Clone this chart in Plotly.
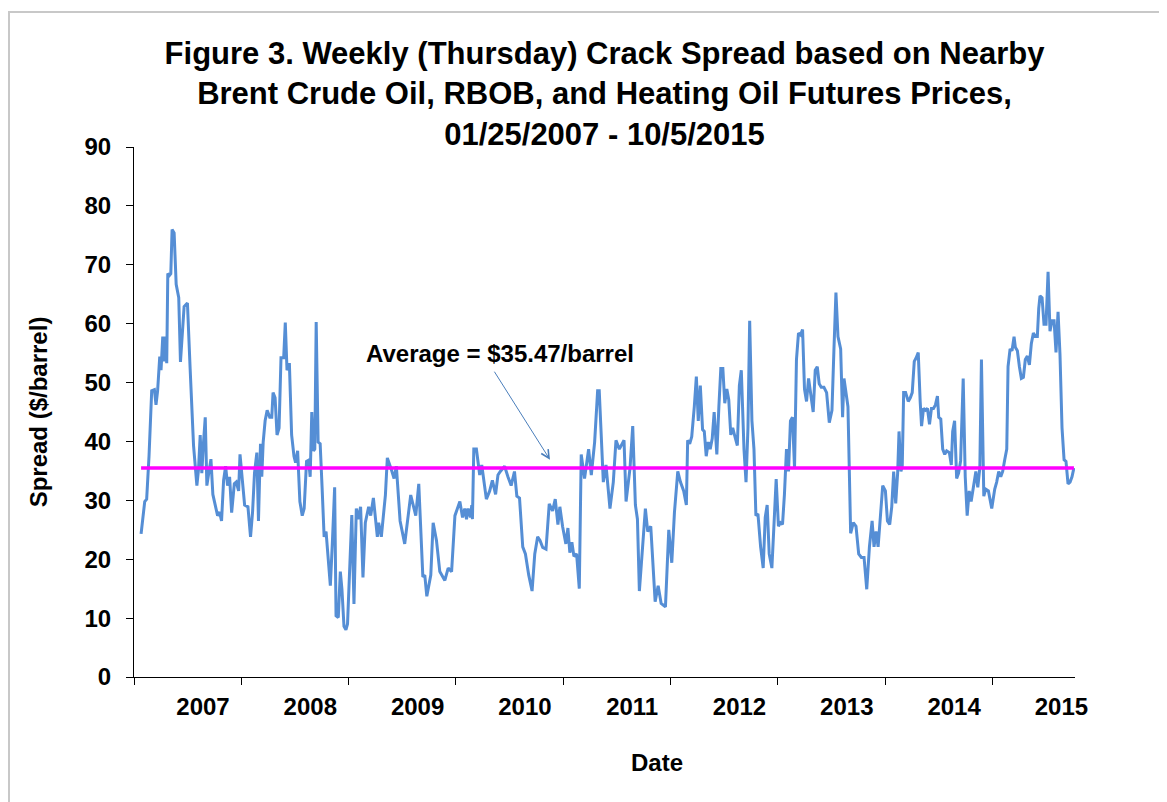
import plotly.graph_objects as go

# weekly crack spread; x is decimal year
x2007 = [2007.066, 2007.087, 2007.100, 2007.118, 2007.140, 2007.165, 2007.190, 2007.205, 2007.220, 2007.240,
         2007.252, 2007.268, 2007.283, 2007.296, 2007.305, 2007.315, 2007.330, 2007.343, 2007.355, 2007.374,
         2007.393, 2007.417, 2007.433, 2007.467, 2007.498, 2007.523, 2007.555, 2007.586, 2007.601, 2007.617,
         2007.632, 2007.648, 2007.664, 2007.679, 2007.695, 2007.717, 2007.735, 2007.757, 2007.779, 2007.798,
         2007.816, 2007.835, 2007.854, 2007.872, 2007.891, 2007.910, 2007.935, 2007.953, 2007.975, 2007.988]
s2007 = [24.3, 28.5, 29.8, 30.2, 37.5, 48.6, 48.8, 46.2, 48.6, 54.4,
         52.1, 57.8, 53.6, 57.8, 53.3, 68.5, 68.2, 68.5, 76.0, 75.4,
         66.7, 64.4, 53.5, 62.9, 63.5, 52.4, 39.3, 32.5, 35.2, 41.1,
         34.6, 39.9, 44.1, 32.5, 34.6, 37.0, 31.0, 29.2, 27.4, 28.0,
         26.5, 33.4, 35.8, 32.5, 34.0, 27.9, 32.8, 33.1, 31.6, 37.8]

x2008 = [2008.006, 2008.031, 2008.062, 2008.086, 2008.105, 2008.123, 2008.145, 2008.160, 2008.179, 2008.191,
         2008.204, 2008.222, 2008.241, 2008.265, 2008.284, 2008.296, 2008.315, 2008.333, 2008.352, 2008.370,
         2008.395, 2008.410, 2008.426, 2008.448, 2008.469, 2008.491, 2008.506, 2008.525, 2008.546, 2008.568,
         2008.586, 2008.608, 2008.627, 2008.642, 2008.657, 2008.673, 2008.685, 2008.698, 2008.716, 2008.735,
         2008.753, 2008.772, 2008.790, 2008.809, 2008.830, 2008.849, 2008.870, 2008.883, 2008.904, 2008.923,
         2008.938, 2008.957, 2008.975, 2008.990]
s2008 = [34.0, 29.2, 28.9, 23.8, 28.0, 34.6, 38.1, 26.5, 39.6, 34.0,
         39.9, 43.5, 45.3, 44.1, 44.1, 48.3, 47.4, 41.1, 42.3, 54.2,
         54.2, 60.2, 52.1, 53.3, 41.1, 37.5, 36.4, 38.4, 29.8, 27.4,
         28.6, 36.6, 36.8, 34.0, 45.0, 38.4, 38.7, 60.3, 39.9, 39.6,
         32.2, 23.8, 24.7, 20.3, 15.5, 22.9, 32.2, 10.4, 10.1, 17.9,
         14.9, 8.6, 8.0, 9.0]

x2009 = [2009.010, 2009.030, 2009.050, 2009.072, 2009.087, 2009.112, 2009.134, 2009.156, 2009.187, 2009.206,
         2009.231, 2009.268, 2009.280, 2009.305, 2009.343, 2009.361, 2009.399, 2009.424, 2009.445, 2009.480,
         2009.523, 2009.548, 2009.579, 2009.626, 2009.654, 2009.692, 2009.710, 2009.729, 2009.766, 2009.788,
         2009.819, 2009.850, 2009.897, 2009.928, 2009.960, 2009.991]
s2009 = [18.0, 27.5, 12.4, 28.6, 26.8, 28.9, 16.9, 26.2, 28.9, 27.4,
         30.4, 23.8, 26.2, 23.8, 30.9, 37.2, 35.2, 33.7, 35.8, 26.5,
         22.6, 26.2, 30.9, 27.4, 32.8, 17.0, 17.3, 13.7, 17.3, 26.2,
         23.2, 17.9, 16.4, 18.5, 17.9, 27.4]

x2010 = [2010.006, 2010.037, 2010.062, 2010.083, 2010.099, 2010.114, 2010.136, 2010.148, 2010.154, 2010.167,
         2010.191, 2010.222, 2010.241, 2010.284, 2010.315, 2010.340, 2010.370, 2010.392, 2010.414, 2010.454,
         2010.485, 2010.515, 2010.546, 2010.568, 2010.593, 2010.623, 2010.648, 2010.679, 2010.710, 2010.735,
         2010.762, 2010.784, 2010.809, 2010.840, 2010.870, 2010.901, 2010.926, 2010.951, 2010.969, 2010.994]
s2010 = [28.3, 29.8, 27.1, 28.6, 26.8, 28.6, 27.1, 29.2, 26.8, 38.7,
         38.7, 34.3, 36.0, 30.2, 31.6, 33.4, 31.0, 34.3, 34.9, 35.8,
         34.0, 32.5, 34.9, 30.7, 30.4, 22.1, 20.9, 17.3, 14.6, 20.9,
         23.8, 23.2, 22.0, 21.7, 29.4, 28.2, 30.2, 25.9, 28.9, 25.6]

x2011 = [2011.025, 2011.044, 2011.062, 2011.081, 2011.100, 2011.125, 2011.150, 2011.168, 2011.199, 2011.237,
         2011.262, 2011.293, 2011.321, 2011.336, 2011.374, 2011.399, 2011.436, 2011.467, 2011.492, 2011.523,
         2011.567, 2011.586, 2011.623, 2011.648, 2011.673, 2011.692, 2011.710, 2011.766, 2011.788, 2011.816,
         2011.857, 2011.885, 2011.913, 2011.953, 2011.984]
s2011 = [22.6, 25.3, 21.1, 22.9, 20.5, 20.9, 15.0, 37.8, 33.7, 38.7,
         34.3, 39.9, 48.6, 48.6, 33.1, 36.0, 28.6, 33.1, 40.2, 38.7,
         40.2, 29.8, 35.5, 42.6, 29.2, 26.8, 14.6, 28.6, 24.7, 25.6,
         12.8, 15.5, 12.5, 11.9, 25.0]

x2012 = [2012.012, 2012.037, 2012.068, 2012.093, 2012.123, 2012.148, 2012.160, 2012.179, 2012.198, 2012.222,
         2012.241, 2012.259, 2012.278, 2012.299, 2012.315, 2012.333, 2012.352, 2012.370, 2012.389, 2012.407,
         2012.432, 2012.451, 2012.469, 2012.488, 2012.506, 2012.525, 2012.543, 2012.562, 2012.580, 2012.605,
         2012.623, 2012.642, 2012.660, 2012.685, 2012.704, 2012.722, 2012.738, 2012.759, 2012.778, 2012.796,
         2012.815, 2012.840, 2012.864, 2012.883, 2012.901, 2012.920, 2012.945, 2012.985]
s2012 = [19.4, 28.0, 34.9, 33.1, 31.6, 29.2, 40.2, 39.6, 40.8, 45.9,
         51.0, 43.5, 49.5, 42.0, 41.7, 37.5, 39.9, 38.7, 40.5, 45.0,
         37.8, 45.9, 52.4, 52.4, 46.5, 48.9, 47.1, 41.1, 42.3, 40.5,
         39.3, 49.5, 52.1, 38.7, 33.1, 42.3, 60.5, 43.5, 38.7, 27.4,
         27.7, 22.1, 18.5, 27.1, 29.2, 20.9, 18.5, 33.6]

x2013 = [2013.006, 2013.025, 2013.044, 2013.062, 2013.081, 2013.100, 2013.118, 2013.137, 2013.156, 2013.174,
         2013.193, 2013.212, 2013.231, 2013.249, 2013.268, 2013.287, 2013.312, 2013.330, 2013.349, 2013.368,
         2013.386, 2013.405, 2013.430, 2013.455, 2013.480, 2013.505, 2013.523, 2013.542, 2013.561, 2013.586,
         2013.604, 2013.617, 2013.654, 2013.679, 2013.704, 2013.729, 2013.754, 2013.779, 2013.804, 2013.829,
         2013.854, 2013.879, 2013.897, 2013.916, 2013.935, 2013.953, 2013.978]
s2013 = [25.6, 26.2, 25.9, 31.0, 38.7, 34.9, 43.5, 44.1, 35.5, 53.9,
         58.4, 58.1, 59.0, 48.9, 46.8, 50.7, 47.1, 45.0, 52.1, 52.7,
         49.8, 49.2, 49.2, 48.3, 43.2, 45.3, 55.4, 65.3, 57.8, 55.7,
         44.1, 50.7, 45.9, 24.4, 26.2, 25.6, 20.9, 20.3, 20.3, 14.9,
         22.1, 26.5, 22.1, 24.7, 22.1, 26.5, 32.5]

x2014 = [2014.003, 2014.022, 2014.043, 2014.062, 2014.080, 2014.099, 2014.117, 2014.130, 2014.148, 2014.160,
         2014.173, 2014.191, 2014.216, 2014.235, 2014.253, 2014.272, 2014.290, 2014.309, 2014.327, 2014.340,
         2014.358, 2014.377, 2014.395, 2014.414, 2014.432, 2014.451, 2014.469, 2014.488, 2014.500, 2014.519,
         2014.537, 2014.556, 2014.574, 2014.599, 2014.617, 2014.630, 2014.648, 2014.667, 2014.685, 2014.704,
         2014.728, 2014.747, 2014.765, 2014.784, 2014.802, 2014.827, 2014.846, 2014.864, 2014.883, 2014.898,
         2014.920, 2014.938, 2014.963, 2014.994]
s2014 = [31.6, 26.5, 25.9, 28.9, 34.9, 29.5, 34.6, 41.7, 34.9, 35.8,
         48.3, 48.3, 46.8, 47.4, 48.3, 53.6, 54.2, 55.1, 46.8, 42.6,
         45.6, 45.3, 45.6, 42.9, 45.6, 45.6, 46.2, 47.7, 44.1, 43.8,
         38.7, 37.8, 38.4, 38.1, 36.0, 41.7, 43.5, 33.7, 34.6, 36.7,
         50.7, 34.0, 27.4, 31.6, 29.8, 32.8, 34.9, 32.2, 35.5, 53.9,
         30.7, 31.9, 31.6, 28.6]

x2015 = [2015.022, 2015.040, 2015.059, 2015.078, 2015.096, 2015.115, 2015.134, 2015.146, 2015.165, 2015.183,
         2015.202, 2015.214, 2015.233, 2015.252, 2015.270, 2015.289, 2015.307, 2015.326, 2015.345, 2015.363,
         2015.382, 2015.401, 2015.419, 2015.432, 2015.444, 2015.463, 2015.481, 2015.500, 2015.519, 2015.537,
         2015.556, 2015.575, 2015.593, 2015.612, 2015.630, 2015.649, 2015.668, 2015.686, 2015.705, 2015.724,
         2015.742, 2015.760]
s2015 = [31.9, 33.1, 34.9, 34.0, 34.9, 36.9, 38.7, 52.7, 55.7, 55.4,
         57.8, 56.0, 55.4, 52.7, 50.7, 50.9, 53.9, 54.5, 53.0, 56.6,
         58.4, 57.8, 57.8, 62.6, 64.7, 64.4, 59.9, 59.9, 68.8, 58.7,
         60.5, 60.5, 55.1, 62.0, 54.8, 42.3, 36.9, 36.6, 32.8, 33.1,
         34.0, 35.5]

years = [2007, 2008, 2009, 2010, 2011, 2012, 2013, 2014, 2015]
average = 35.47

x = x2007 + x2008 + x2009 + x2010 + x2011 + x2012 + x2013 + x2014 + x2015
spread = s2007 + s2008 + s2009 + s2010 + s2011 + s2012 + s2013 + s2014 + s2015

FONT = "Liberation Sans, Arial, sans-serif"

fig = go.Figure()
fig.add_trace(go.Scatter(x=x, y=spread, mode="lines",
                         line=dict(color="#558ed5", width=3), name="Crack spread"))
fig.add_trace(go.Scatter(x=[x[0], x[-1]], y=[average, average], mode="lines",
                         line=dict(color="#ff00ff", width=3.5), name="Average"))

# page body adds an 8px margin, so the figure is 8px smaller than the window
fig.update_layout(
    width=1159, height=794,
    margin=dict(l=126, r=92, t=139, b=125),
    paper_bgcolor="white", plot_bgcolor="white",
    showlegend=False,
    font=dict(family=FONT, color="black"),
    title=dict(
        text="Figure 3. Weekly (Thursday) Crack Spread based on Nearby<br>"
             "Brent Crude Oil, RBOB, and Heating Oil Futures Prices,<br>"
             "01/25/2007 - 10/5/2015",
        x=0.5, xref="paper", xanchor="center",
        y=1 - 56 / 794, yanchor="middle",
        font=dict(size=31, family=FONT, weight="bold", color="black"),
    ),
)

fig.update_xaxes(
    range=[2007, 2015.77],
    tickmode="array",
    tickvals=[yr + 0.643 for yr in years],
    ticktext=[str(yr) for yr in years],
    ticks="outside", ticklen=7, tickcolor="rgba(0,0,0,0)",
    ticklabelstandoff=1,
    tickfont=dict(size=24, family=FONT, weight="bold"),
    minor=dict(tickmode="array", tickvals=years, ticks="outside",
               ticklen=7, tickcolor="black", tickwidth=1, showgrid=False),
    showline=True, linecolor="black", linewidth=1,
    showgrid=False, zeroline=False,
)
fig.update_yaxes(
    range=[0, 90], dtick=10,
    ticks="outside", ticklen=7, tickcolor="black",
    ticklabelstandoff=10,
    tickfont=dict(size=24, family=FONT, weight="bold"),
    title=dict(text="Spread ($/barrel)", standoff=30,
               font=dict(size=24, family=FONT, weight="bold")),
    showline=True, linecolor="black", linewidth=1,
    showgrid=False, zeroline=False,
)

# x-axis title sits right of centre in the original
fig.add_annotation(text="<b>Date</b>", xref="paper", yref="paper",
                   x=(657 - 134) / 941, y=(677 - 778) / 530,
                   showarrow=False, font=dict(size=24, family=FONT))

fig.add_annotation(text="<b>Average = $35.47/barrel</b>", x=2010.411, y=54.85,
                   showarrow=False, font=dict(size=24, family=FONT))
fig.add_annotation(text="", x=2010.877, y=36.9, ax=2010.35, ay=52.1,
                   axref="x", ayref="y", showarrow=True,
                   arrowhead=5, arrowsize=1.6, arrowwidth=1, arrowcolor="#4a7ebb",
                   standoff=0, startstandoff=0)

# light grey chart border
fig.add_shape(type="rect", xref="paper", yref="paper",
              x0=-125 / 941, x1=(1172 - 134) / 941,
              y0=(677 - 808) / 530, y1=(677 - 12) / 530,
              line=dict(color="#c8c8c8", width=2), fillcolor="rgba(0,0,0,0)", layer="below")

fig.write_html("out.html")
